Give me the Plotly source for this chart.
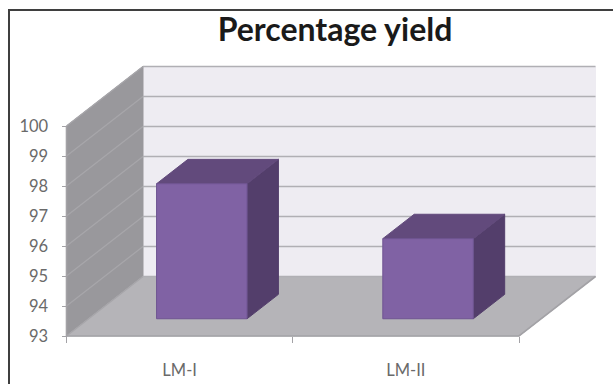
import plotly.graph_objects as go

# Chart content
title = "Percentage yield"
categories = ["LM-I", "LM-II"]
yield_percent = [97.5, 95.67]
y_ticks = [93, 94, 95, 96, 97, 98, 99, 100]

# Canvas and oblique-projection settings, in pixels
W, H = 613, 384
AXIS_LEFT, AXIS_BOTTOM = 66.5, 336.0
CAT_PX, UNIT_PX = 226.25, 30.0
DEPTH_DX, DEPTH_DY = 76.5, 59.5
BAR_W = 0.4
BAR_NEAR, BAR_FAR = 0.29, 0.70

x_range = [-AXIS_LEFT / CAT_PX, (W - AXIS_LEFT) / CAT_PX]
y_range = [y_ticks[0] - (H - AXIS_BOTTOM) / UNIT_PX, y_ticks[0] + AXIS_BOTTOM / UNIT_PX]
y0, y1 = y_ticks[0], y_ticks[-1]
n = len(categories)


def proj(x, v, d):
    """Map category position, value and depth (0 front, 1 back) to axis coordinates."""
    return x + d * DEPTH_DX / CAT_PX, v + d * DEPTH_DY / UNIT_PX


def poly(points, color, line=None, width=1):
    xs, ys = zip(*[proj(*p) for p in points])
    return go.Scatter(
        x=list(xs) + [xs[0]], y=list(ys) + [ys[0]], mode="lines", fill="toself",
        fillcolor=color, line=dict(color=line or color, width=width),
        hoverinfo="skip", showlegend=False,
    )


def path(points, color, width=1.6):
    xs, ys = zip(*[proj(*p) for p in points])
    return go.Scatter(x=xs, y=ys, mode="lines", line=dict(color=color, width=width),
                      hoverinfo="skip", showlegend=False)


fig = go.Figure()

# Walls and floor
fig.add_trace(poly([(0, y0, 1), (n, y0, 1), (n, y1, 1), (0, y1, 1)], "#eeecf2"))
fig.add_trace(poly([(0, y0, 0), (0, y1, 0), (0, y1, 1), (0, y0, 1)], "#99989c"))
fig.add_trace(poly([(0, y0, 0), (n, y0, 0), (n, y0, 1), (0, y0, 1)], "#b5b4b8"))

# Gridlines run along the side wall and across the back wall
for t in y_ticks:
    fig.add_trace(path([(0, t, 0), (0, t, 1)], "#a7a6aa", 1.3))
    fig.add_trace(path([(0, t, 1), (n, t, 1)], "#b0afb4"))
fig.add_trace(path([(0, y0, 0), (n, y0, 0), (n, y0, 1)], "#a3a2a6"))
fig.add_trace(path([(0, y0, 0), (0, y1, 0)], "#a3a2a6"))

# Bars: side, top, then front face
for i, value in enumerate(yield_percent):
    a, b = i + 0.3, i + 0.3 + BAR_W
    fig.add_trace(poly([(b, y0, BAR_NEAR), (b, y0, BAR_FAR), (b, value, BAR_FAR), (b, value, BAR_NEAR)], "#533e6b"))
    fig.add_trace(poly([(a, value, BAR_NEAR), (b, value, BAR_NEAR), (b, value, BAR_FAR), (a, value, BAR_FAR)], "#624a7c"))
    fig.add_trace(poly([(a, y0, BAR_NEAR), (b, y0, BAR_NEAR), (b, value, BAR_NEAR), (a, value, BAR_NEAR)], "#8062a4", "#6f5592"))

tick_font = dict(family="Lato, Carlito, sans-serif", size=16.5, color="#6a6a6a")

fig.update_layout(
    width=W, height=H, margin=dict(l=0, r=0, t=0, b=0),
    paper_bgcolor="white", plot_bgcolor="white", showlegend=False,
    title=dict(text=f"<b>{title}</b>", x=335 / W, xanchor="center", y=1 - 30 / H, yanchor="middle",
               font=dict(family="Lato, Carlito, sans-serif", size=32, color="#1a1a1a")),
    xaxis=dict(
        range=x_range, domain=[0, 1], anchor="free", position=(H - AXIS_BOTTOM) / H,
        tickmode="array", tickvals=[i + 0.5 for i in range(n)], ticktext=categories,
        ticks="", showgrid=False, zeroline=False, showline=False,
        tickfont=tick_font, ticklabelstandoff=22,
        minor=dict(tickmode="array", tickvals=list(range(n + 1)), ticks="outside",
                   ticklen=6, tickcolor="#a3a2a6", tickwidth=1, showgrid=False),
    ),
    yaxis=dict(
        range=y_range, domain=[0, 1], anchor="free", position=AXIS_LEFT / W,
        tickmode="array", tickvals=y_ticks, ticks="outside", ticklen=5,
        tickcolor="#a3a2a6", showgrid=False, zeroline=False, showline=False,
        tickfont=dict(tick_font, size=16.5), ticklabelstandoff=10,
    ),
    # Chart frame
    shapes=[dict(type="rect", xref="paper", yref="paper", x0=9 / W, x1=1.02, y0=-0.02, y1=1 - 10 / H,
                 line=dict(color="#3f3f3f", width=2), fillcolor="rgba(0,0,0,0)")],
)

fig.write_html("out.html")
